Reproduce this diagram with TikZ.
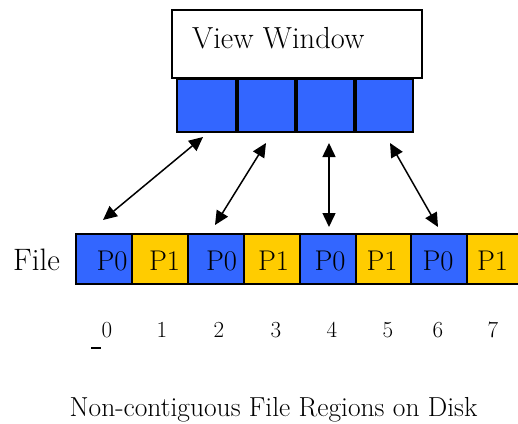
\documentclass[tikz,border=0pt]{standalone}
\usetikzlibrary{arrows.meta}

\definecolor{pblue}{RGB}{51,102,255}
\definecolor{pyellow}{RGB}{255,204,0}

\tikzset{
  winbox/.style={draw=black, line width=1.6pt, fill=white, minimum width=250pt, minimum height=68pt, inner sep=0pt},
  wincell/.style={draw=black, line width=1.6pt, fill=pblue, minimum width=59pt, minimum height=53pt, inner sep=0pt},
  divider/.style={line width=4.5pt, line cap=butt},
  filecell/.style={draw=black, line width=1.4pt, minimum width=56pt, minimum height=50pt, inner sep=0pt},
  cellp0/.style={filecell, fill=pblue},
  cellp1/.style={filecell, fill=pyellow},
  celltext/.style={anchor=base, inner sep=0pt, font=\fontsize{28.5}{34}\selectfont},
  idxtext/.style={anchor=base, inner sep=0pt, font=\fontsize{23}{27}\selectfont},
  link/.style={line width=1.5pt, {Triangle[length=14pt,width=13pt]}-{Triangle[length=14pt,width=13pt]}}
}

\begin{document}
\begin{tikzpicture}[x=1pt, y=-1pt]
\useasboundingbox (0,0) rectangle (518,423);
\clip (0,0) rectangle (518,423);

% view window frame and its title
\node[winbox] (win) at (297,44) {};
\node[anchor=base west, inner sep=0pt, font=\fontsize{30.5}{36}\selectfont] (wintitle) at (192,48) {View Window};

% the four buffer slots under the window
\foreach \i/\x in {0/206.5, 1/265.5, 2/324.5, 3/383.5} {
  \node[wincell] (w\i) at (\x,105.5) {};
}
\foreach \a/\b in {0/1, 1/2, 2/3} {
  \draw[divider] (w\a.north east) -- (w\a.south east);
}

% file blocks, alternating between the two processes
\node[anchor=base west, inner sep=0pt, font=\fontsize{31}{37}\selectfont] (filelabel) at (13,270) {File};
\foreach \i/\x/\s in {0/104/cellp0, 1/160/cellp1, 2/216/cellp0, 3/272/cellp1,
                      4/328/cellp0, 5/384/cellp1, 6/439/cellp0, 7/495/cellp1} {
  \node[\s] (f\i) at (\x,259) {};
}
\foreach \i/\x/\t in {0/112/P0, 1/164.5/P1, 2/221.5/P0, 3/273.5/P1,
                      4/330/P0, 5/382/P1, 6/438/P0, 7/492.5/P1} {
  \node[celltext] (t\i) at (\x,270) {\t};
}

% arrow end points
\coordinate (a0) at (203,137);
\coordinate (b0) at (103,220);
\coordinate (a1) at (266,143);
\coordinate (b1) at (215,225);
\coordinate (a2) at (329,143);
\coordinate (b2) at (329,227);
\coordinate (a3) at (390,143);
\coordinate (b3) at (438,227);
\foreach \i in {0,1,2,3} {
  \draw[link] (a\i) -- (b\i);
}

% block indices
\foreach \i/\x in {0/107, 1/162, 2/219, 3/276, 4/332, 5/388, 6/438, 7/493} {
  \node[idxtext] (n\i) at (\x,337) {\i};
}
\draw[line width=1.6pt] (91,348) -- (101,348);

% caption
\node[anchor=base, inner sep=0pt, font=\fontsize{27.5}{33}\selectfont] (caption) at (273.5,416) {Non-contiguous File Regions on Disk};
\end{tikzpicture}
\end{document}
